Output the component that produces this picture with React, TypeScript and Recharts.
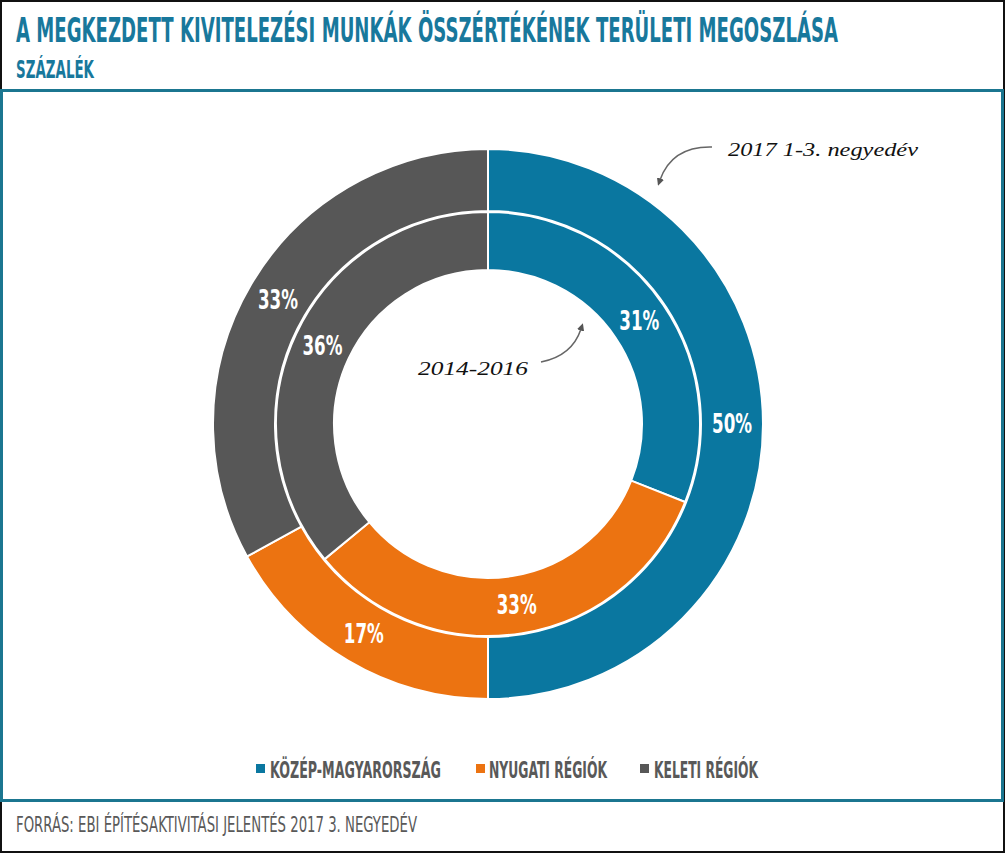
import React from 'react';
import { PieChart, Pie, Cell, Legend } from 'recharts';

// categories and values
const regions = ['KÖZÉP-MAGYARORSZÁG', 'NYUGATI RÉGIÓK', 'KELETI RÉGIÓK'];
const colors = ['#0a77a0', '#ec7311', '#575757'];
const share2014_2016 = [31, 33, 36];
const share2017 = [50, 17, 33];

const innerData = regions.map((name, i) => ({ name, value: share2014_2016[i] }));
const outerData = regions.map((name, i) => ({ name, value: share2017[i] }));

const COND = "'Liberation Sans Narrow', 'DejaVu Sans Condensed', sans-serif";
const HAND = "'Liberation Serif', 'DejaVu Serif', serif";
const TEAL = '#18789c';
const GRAY = '#595959';

// legend layout (x of square, x of text, text width)
const legendSquareX = [256, 476, 640];
const legendTextX = [270, 489, 654];
const legendTextW = [171, 118, 104];

const RADIAN = Math.PI / 180;

const renderLabel = (props: any) => {
  const { cx, cy, midAngle, innerRadius, outerRadius, value } = props;
  const r = (innerRadius + outerRadius) / 2;
  const x = cx + r * Math.cos(-midAngle * RADIAN);
  const y = cy + r * Math.sin(-midAngle * RADIAN);
  return (
    <text
      x={x}
      y={y + 9}
      fill="#fff"
      textAnchor="middle"
      fontSize={26}
      fontWeight="bold"
      fontFamily={COND}
      textLength={40}
      lengthAdjust="spacingAndGlyphs"
    >
      {value}%
    </text>
  );
};

const LegendBox = () => (
  <svg width={1005} height={30}>
    {regions.map((name, i) => (
      <g key={name}>
        <rect x={legendSquareX[i]} y={9} width={9} height={9} fill={colors[i]} />
        <text
          x={legendTextX[i]}
          y={23}
          fill={GRAY}
          fontSize={23}
          fontWeight="bold"
          fontFamily={COND}
          textLength={legendTextW[i]}
          lengthAdjust="spacingAndGlyphs"
        >
          {name}
        </text>
      </g>
    ))}
  </svg>
);

const App: React.FC = () => {
  return (
    <div style={{ position: 'absolute', left: 0, top: 0, width: 1005, height: 853, background: '#fff', overflow: 'hidden' }}>
      <div style={{ position: 'absolute', left: 0, top: 0, width: 1005, height: 853, boxSizing: 'border-box', border: '2px solid #111' }} />
      <div style={{ position: 'absolute', left: 0, top: 89, width: 1004, height: 713, boxSizing: 'border-box', border: '3px solid #1b7690' }} />

      <svg width={1005} height={853} style={{ position: 'absolute', left: 0, top: 0 }}>
        <text x={16} y={42} fill={TEAL} fontSize={33} fontWeight="bold" fontFamily={COND} textLength={822} lengthAdjust="spacingAndGlyphs">
          A MEGKEZDETT KIVITELEZÉSI MUNKÁK ÖSSZÉRTÉKÉNEK TERÜLETI MEGOSZLÁSA
        </text>
        <text x={16} y={78} fill={TEAL} fontSize={25} fontWeight="bold" fontFamily={COND} textLength={78} lengthAdjust="spacingAndGlyphs">
          SZÁZALÉK
        </text>
        <text x={16} y={832} fill={GRAY} fontSize={21} fontFamily={COND} textLength={401} lengthAdjust="spacingAndGlyphs">
          FORRÁS: EBI ÉPÍTÉSAKTIVITÁSI JELENTÉS 2017 3. NEGYEDÉV
        </text>
      </svg>

      <div style={{ position: 'absolute', left: 0, top: 0 }}>
        <PieChart width={1005} height={853} margin={{ top: 0, right: 0, bottom: 0, left: 0 }}>
          <Pie
            data={innerData}
            dataKey="value"
            nameKey="name"
            cx={488}
            cy={424}
            innerRadius={154}
            outerRadius={212}
            startAngle={90}
            endAngle={-270}
            stroke="#fff"
            strokeWidth={2}
            label={renderLabel}
            labelLine={false}
            isAnimationActive={false}
          >
            {innerData.map((d, i) => (
              <Cell key={d.name} fill={colors[i]} />
            ))}
          </Pie>
          <Pie
            data={outerData}
            dataKey="value"
            nameKey="name"
            cx={488}
            cy={424}
            innerRadius={213}
            outerRadius={275}
            startAngle={90}
            endAngle={-270}
            stroke="#fff"
            strokeWidth={2}
            label={renderLabel}
            labelLine={false}
            isAnimationActive={false}
          >
            {outerData.map((d, i) => (
              <Cell key={d.name} fill={colors[i]} />
            ))}
          </Pie>
          <Legend content={() => <LegendBox />} wrapperStyle={{ position: 'absolute', left: 0, top: 755, width: 1005, height: 30 }} />
        </PieChart>
      </div>

      <svg width={1005} height={853} style={{ position: 'absolute', left: 0, top: 0, pointerEvents: 'none' }}>
        <defs>
          <marker id="arrowHead" viewBox="0 0 10 10" refX="2" refY="5" markerWidth="5" markerHeight="5" orient="auto">
            <path d="M0,0 L10,5 L0,10 z" fill="#555" />
          </marker>
        </defs>
        <path d="M 712 147 Q 672 146 660 180" fill="none" stroke="#666" strokeWidth={1.5} markerEnd="url(#arrowHead)" />
        <text x={728} y={156} fill="#111" fontSize={19} fontStyle="italic" fontFamily={HAND} textLength={190} lengthAdjust="spacingAndGlyphs">
          2017 1-3. negyedév
        </text>
        <path d="M 541 362 Q 572 356 581 329" fill="none" stroke="#666" strokeWidth={1.5} markerEnd="url(#arrowHead)" />
        <text x={418} y={375} fill="#111" fontSize={19} fontStyle="italic" fontFamily={HAND} textLength={110} lengthAdjust="spacingAndGlyphs">
          2014-2016
        </text>
      </svg>
    </div>
  );
};

export default App;
